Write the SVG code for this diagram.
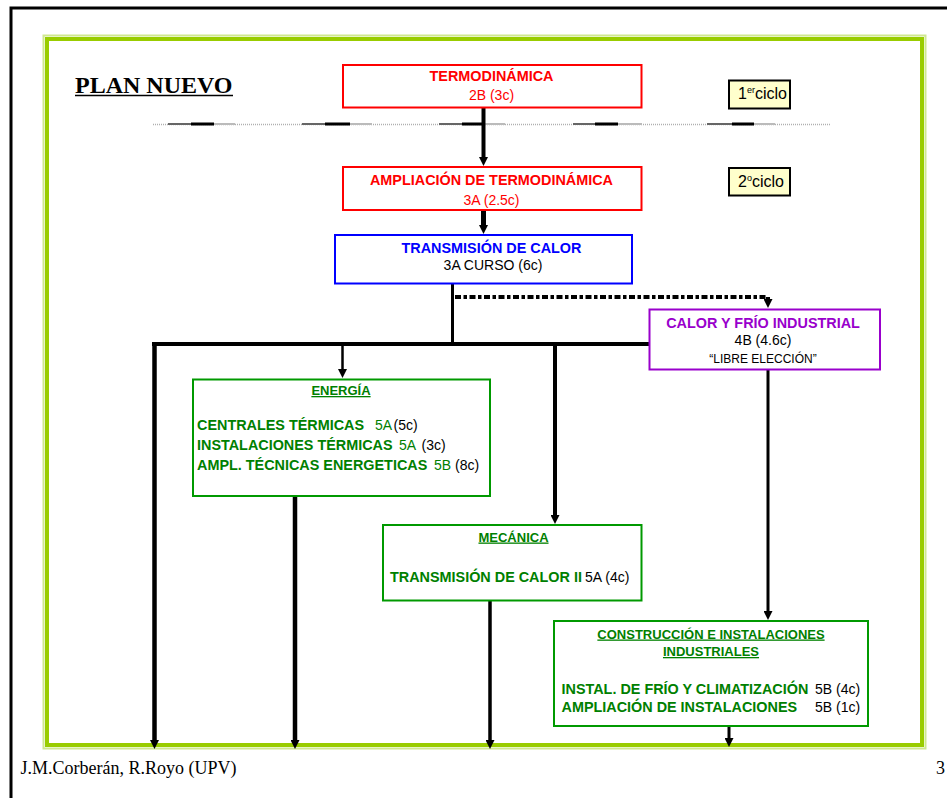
<svg xmlns="http://www.w3.org/2000/svg" width="947" height="798" viewBox="0 0 947 798">
<style>
text{font-family:"Liberation Sans",Arial,sans-serif;font-size:14px}
.b{font-weight:bold;font-size:14.4px}
.c{text-anchor:middle}
.red{fill:#ff0000}
.blue{fill:#0000ff}
.pur{fill:#9900cc}
.grn{fill:#008000}
.blk{fill:#000}
.h{font-size:13px;font-weight:bold;text-decoration:underline;fill:#008000;text-anchor:middle}
.box{fill:#fff;stroke-width:2}
.conn{stroke:#000;fill:none}
.serif{font-family:"Liberation Serif","Times New Roman",serif}
</style>
<defs>
<marker id="ah" viewBox="0 0 10 10" refX="0" refY="5" markerWidth="10" markerHeight="9" markerUnits="userSpaceOnUse" orient="auto">
<path d="M0,0 L10,5 L0,10 z" fill="#000"/>
</marker>
</defs>
<rect width="947" height="798" fill="#fff"/>
<path d="M11,798 L11,8 L947,8" fill="none" stroke="#000" stroke-width="3"/>
<g id="frame">
<rect x="43.5" y="35.5" width="882" height="713" fill="none" stroke="#cfe88f" stroke-width="2"/>
<rect x="47" y="39" width="875" height="706" fill="none" stroke="#99cc00" stroke-width="4"/>
</g>
<g id="title">
<text x="75" y="93" class="serif" style="font-size:24px;font-weight:bold">PLAN NUEVO</text>
<line x1="75" y1="95.5" x2="233" y2="95.5" stroke="#000" stroke-width="1.5"/>
</g>
<g id="separator">
<line x1="153" y1="124.5" x2="830" y2="124.5" stroke="#b0b0b0" stroke-width="1.5" stroke-dasharray="1 1"/>
<g stroke-width="2">
<line x1="168" y1="124" x2="191" y2="124" stroke="#666"/>
<line x1="191" y1="124" x2="214" y2="124" stroke="#000" stroke-width="3"/>
<line x1="214" y1="124" x2="235" y2="124" stroke="#bbb"/>
<line x1="302" y1="124" x2="325" y2="124" stroke="#666"/>
<line x1="325" y1="124" x2="350" y2="124" stroke="#000" stroke-width="3"/>
<line x1="350" y1="124" x2="372" y2="124" stroke="#bbb"/>
<line x1="439" y1="124" x2="462" y2="124" stroke="#666"/>
<line x1="462" y1="124" x2="485" y2="124" stroke="#000" stroke-width="3"/>
<line x1="485" y1="124" x2="505" y2="124" stroke="#bbb"/>
<line x1="573" y1="124" x2="595" y2="124" stroke="#666"/>
<line x1="595" y1="124" x2="618" y2="124" stroke="#000" stroke-width="3"/>
<line x1="618" y1="124" x2="642" y2="124" stroke="#bbb"/>
<line x1="707" y1="124" x2="732" y2="124" stroke="#666"/>
<line x1="732" y1="124" x2="754" y2="124" stroke="#000" stroke-width="3"/>
<line x1="754" y1="124" x2="775" y2="124" stroke="#bbb"/>
</g>
</g>
<g id="connectors" class="conn">
<line x1="483.5" y1="108" x2="483.5" y2="157" stroke-width="4" marker-end="url(#ah)"/>
<line x1="483.5" y1="211" x2="483.5" y2="225" stroke-width="5" marker-end="url(#ah)"/>
<line x1="452.5" y1="284" x2="452.5" y2="344" stroke-width="3"/>
<path d="M455,297 L768,297 L768,299" stroke-width="4" stroke-dasharray="6 2.5 3.5 2.5"/>
<line x1="768" y1="297" x2="768" y2="299" stroke-width="3" marker-end="url(#ah)"/>
<line x1="152" y1="344" x2="650" y2="344" stroke-width="4"/>
<line x1="154.5" y1="342" x2="154.5" y2="740" stroke-width="4.5" marker-end="url(#ah)"/>
<line x1="342.5" y1="344" x2="342.5" y2="369" stroke-width="2.5" marker-end="url(#ah)"/>
<line x1="555" y1="344" x2="555" y2="515" stroke-width="4" marker-end="url(#ah)"/>
<line x1="768" y1="370" x2="768" y2="611" stroke-width="3" marker-end="url(#ah)"/>
<line x1="295" y1="497" x2="295" y2="740" stroke-width="4.5" marker-end="url(#ah)"/>
<line x1="490" y1="601" x2="490" y2="740" stroke-width="3.5" marker-end="url(#ah)"/>
<line x1="729" y1="727" x2="729" y2="738" stroke-width="3" marker-end="url(#ah)"/>
</g>
<g id="termodinamica">
<rect x="343" y="65" width="298.5" height="42.5" class="box" stroke="#ff0000"/>
<text x="491.5" y="81" class="b c red">TERMODINÁMICA</text>
<text x="491.5" y="100" class="c red">2B (3c)</text>
</g>
<g id="ciclo1">
<rect x="729" y="80.5" width="61" height="28" fill="#ffffcc" stroke="#000" stroke-width="2"/>
<text x="738" y="99" style="font-size:16px">1<tspan style="font-size:9px" dy="-6">er</tspan><tspan dy="6">ciclo</tspan></text>
</g>
<g id="ampliacion">
<rect x="343" y="167" width="298.5" height="43" class="box" stroke="#ff0000"/>
<text x="491.5" y="185" class="b c red">AMPLIACIÓN DE TERMODINÁMICA</text>
<text x="491.5" y="205" class="c red">3A (2.5c)</text>
</g>
<g id="ciclo2">
<rect x="729" y="168" width="61" height="27.5" fill="#ffffcc" stroke="#000" stroke-width="2"/>
<text x="738" y="187" style="font-size:16px">2<tspan style="font-size:9px" dy="-6">o</tspan><tspan dy="6">ciclo</tspan></text>
</g>
<g id="transmision">
<rect x="335" y="235" width="297" height="48.5" class="box" stroke="#0000ff"/>
<text x="491.5" y="252.5" class="b c blue">TRANSMISIÓN DE CALOR</text>
<text x="493" y="270" class="c blk">3A CURSO (6c)</text>
</g>
<g id="calorfrio">
<rect x="649.5" y="309.5" width="230.5" height="60" class="box" stroke="#9900cc"/>
<text x="763" y="327.5" class="b c pur">CALOR Y FRÍO INDUSTRIAL</text>
<text x="763" y="345" class="c blk">4B (4.6c)</text>
<text x="763" y="363" class="c blk" style="font-size:12px">“LIBRE ELECCIÓN”</text>
</g>
<g id="energia">
<rect x="193" y="379.5" width="297" height="116.5" class="box" stroke="#009900"/>
<text x="341" y="395" class="h">ENERGÍA</text>
<text x="197" y="429.5"><tspan class="b grn">CENTRALES TÉRMICAS</tspan><tspan x="375" class="grn">5A</tspan><tspan x="393.5" class="blk">(5c)</tspan></text>
<text x="197" y="450"><tspan class="b grn">INSTALACIONES TÉRMICAS</tspan><tspan x="399" class="grn">5A</tspan><tspan x="421.5" class="blk">(3c)</tspan></text>
<text x="197" y="470"><tspan class="b grn">AMPL. TÉCNICAS ENERGETICAS</tspan><tspan x="434" class="grn">5B</tspan><tspan x="455" class="blk">(8c)</tspan></text>
</g>
<g id="mecanica">
<rect x="383" y="525" width="258.5" height="75.5" class="box" stroke="#009900"/>
<text x="513.5" y="541.5" class="h">MECÁNICA</text>
<text x="390" y="582"><tspan class="b grn">TRANSMISIÓN DE CALOR II</tspan><tspan x="585" class="blk">5A (4c)</tspan></text>
</g>
<g id="construccion">
<rect x="554" y="621" width="314" height="105" class="box" stroke="#009900"/>
<text x="711" y="638.5" class="h">CONSTRUCCIÓN E INSTALACIONES</text>
<text x="711" y="656" class="h">INDUSTRIALES</text>
<text x="561.5" y="693.5"><tspan class="b grn">INSTAL. DE FRÍO Y CLIMATIZACIÓN</tspan><tspan x="815" class="blk">5B (4c)</tspan></text>
<text x="561.5" y="712"><tspan class="b grn">AMPLIACIÓN DE INSTALACIONES</tspan><tspan x="815" class="blk">5B (1c)</tspan></text>
</g>
<g id="footer">
<text x="20.5" y="774" class="serif" style="font-size:18px">J.M.Corberán, R.Royo (UPV)</text>
<text x="936" y="774" class="serif" style="font-size:18px">3</text>
</g>
</svg>
